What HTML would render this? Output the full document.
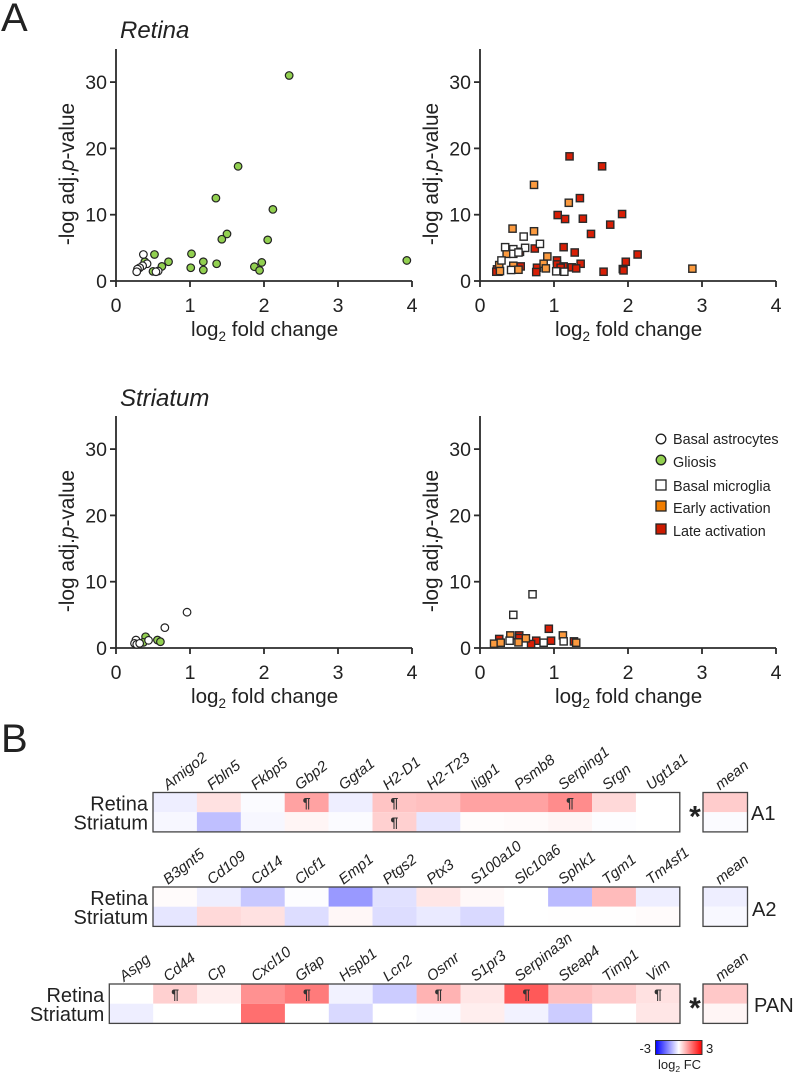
<!DOCTYPE html>
<html lang="en">
<head>
<meta charset="utf-8">
<title>Retina and striatum volcano plots with heatmaps</title>
<style>
html,body{margin:0;padding:0;background:#fff;}
svg{display:block;font-family:"Liberation Sans",Arial,sans-serif;}
text{fill:#222;}
</style>
</head>
<body>
<svg id="fig" xmlns="http://www.w3.org/2000/svg" width="793" height="1074" viewBox="0 0 793 1074">
  <defs>
    <linearGradient id="fcGradient" x1="0" x2="1" y1="0" y2="0">
      <stop offset="0" stop-color="#0000ff"/>
      <stop offset="0.5" stop-color="#ffffff"/>
      <stop offset="1" stop-color="#ff0000"/>
    </linearGradient>
  </defs>
  <text x="1" y="31" font-size="40">A</text>
  <text x="1" y="752" font-size="40">B</text>
  <text x="120" y="38" font-size="24" font-style="italic">Retina</text>
  <text x="120" y="406" font-size="24" font-style="italic">Striatum</text>

  <g id="plots"></g>
  <g id="heatmaps"></g>

  <g>
    <circle cx="661" cy="439" r="4.8" fill="#fff" stroke="#222" stroke-width="1.3"/>
    <text x="673" y="444" font-size="14.4">Basal astrocytes</text>
    <circle cx="661" cy="460" r="4.8" fill="#92d050" stroke="#222" stroke-width="1.3"/>
    <text x="673" y="467" font-size="14.4">Gliosis</text>
    <rect x="656" y="480" width="10" height="10" fill="#fff" stroke="#222" stroke-width="1.3"/>
    <text x="673" y="491" font-size="14.4">Basal microglia</text>
    <rect x="656" y="501" width="10" height="10" fill="#f07d00" stroke="#222" stroke-width="1.3"/>
    <text x="673" y="513" font-size="14.4">Early activation</text>
    <rect x="656" y="524" width="10" height="10" fill="#cc1a00" stroke="#222" stroke-width="1.3"/>
    <text x="673" y="536" font-size="14.4">Late activation</text>
  </g>

  <g>
    <rect x="655.5" y="1040.5" width="46.5" height="14" fill="url(#fcGradient)" stroke="#333" stroke-width="1"/>
    <text x="651" y="1053" font-size="13" text-anchor="end">-3</text>
    <text x="706" y="1053" font-size="13">3</text>
    <text x="658" y="1069" font-size="13">log<tspan font-size="8.5" dy="3">2</tspan><tspan dy="-3"> FC</tspan></text>
  </g>
</svg>
<script>
var xTicks = [0, 1, 2, 3, 4];
var yTicks = [0, 10, 20, 30];

var retinaAstroX = [0.37, 0.42, 0.36, 0.32, 0.29, 0.28, 0.57, 0.54];
var retinaAstroY = [4.0, 2.6, 2.3, 2.0, 1.8, 1.4, 1.5, 1.4];
var retinaGliosisX = [2.34, 1.65, 1.35, 2.12, 1.5, 1.43, 2.05, 0.52, 1.02, 0.71, 1.18, 1.36, 1.97, 3.93, 0.62, 1.01, 1.18, 1.87, 1.94, 0.5, 0.39];
var retinaGliosisY = [31, 17.3, 12.5, 10.8, 7.1, 6.3, 6.2, 4.0, 4.1, 2.9, 2.9, 2.6, 2.8, 3.1, 2.2, 2.0, 1.66, 2.16, 1.6, 1.45, 2.9];

var retinaLateX = [1.21, 1.65, 1.35, 1.05, 1.15, 1.39, 1.92, 1.76, 1.5, 1.13, 0.74, 1.28, 2.13, 1.97, 1.36, 1.04, 1.04, 1.13, 1.09, 1.24, 1.3, 1.67, 1.93, 1.94, 0.77, 0.76, 0.55, 0.54, 0.23, 0.25, 0.22];
var retinaLateY = [18.8, 17.3, 12.5, 9.95, 9.35, 9.4, 10.1, 8.5, 7.1, 5.1, 4.9, 4.3, 4.0, 2.9, 2.6, 3.1, 2.5, 2.2, 2.0, 2.06, 1.9, 1.4, 1.8, 1.6, 2.0, 1.35, 2.2, 4.4, 1.76, 1.4, 1.4];
var retinaEarlyX = [0.73, 1.2, 0.44, 0.73, 0.36, 0.91, 0.86, 0.89, 0.45, 0.52, 0.26, 0.27, 2.87];
var retinaEarlyY = [14.5, 11.8, 7.9, 7.5, 4.1, 3.7, 2.6, 1.9, 2.3, 1.7, 2.4, 1.5, 1.86];
var retinaBasalX = [0.59, 0.81, 0.34, 0.61, 0.45, 0.45, 0.52, 0.29, 0.42, 1.03, 1.14];
var retinaBasalY = [6.7, 5.6, 5.1, 5.0, 4.8, 4.1, 4.3, 3.1, 1.66, 1.46, 1.4];

var striatumAstroX = [0.96, 0.66, 0.44, 0.27, 0.25, 0.28, 0.32];
var striatumAstroY = [5.4, 3.07, 1.16, 1.2, 0.7, 0.55, 0.7];
var striatumGliosisX = [0.4, 0.56, 0.6, 0.37];
var striatumGliosisY = [1.7, 1.2, 0.95, 0.85];

var striatumLateX = [0.93, 0.26, 0.53, 0.76, 0.96, 0.69, 1.27, 0.53];
var striatumLateY = [2.9, 1.36, 1.9, 1.1, 1.1, 0.6, 1.0, 1.5];
var striatumEarlyX = [0.19, 0.28, 0.41, 0.52, 0.62, 1.12, 1.3];
var striatumEarlyY = [0.65, 0.8, 1.9, 0.85, 1.46, 1.9, 0.8];
var striatumBasalX = [0.71, 0.45, 0.4, 0.86, 1.13];
var striatumBasalY = [8.1, 5.0, 1.1, 0.8, 1.0];

var a1Genes = ["Amigo2", "Fbln5", "Fkbp5", "Gbp2", "Ggta1", "H2-D1", "H2-T23", "Iigp1", "Psmb8", "Serping1", "Srgn", "Ugt1a1"];
var a1Retina = [-0.2, 0.35, -0.05, 1.1, -0.2, 0.7, 0.75, 1.1, 1.1, 1.35, 0.45, 0];
var a1Striatum = [-0.1, -0.75, -0.1, 0.12, -0.05, 0.55, -0.3, 0.04, 0.06, 0.12, -0.02, 0];
var a1Mean = [0.6, -0.05];
var a1MarkRetina = ["Gbp2", "H2-D1", "Serping1"];
var a1MarkStriatum = ["H2-D1"];

var a2Genes = ["B3gnt5", "Cd109", "Cd14", "Clcf1", "Emp1", "Ptgs2", "Ptx3", "S100a10", "Slc10a6", "Sphk1", "Tgm1", "Tm4sf1"];
var a2Retina = [0.05, -0.2, -0.65, -0.02, -1.2, -0.35, 0.3, 0.08, 0, -0.8, 0.8, -0.2];
var a2Striatum = [-0.3, 0.45, 0.35, -0.4, 0.1, -0.4, -0.25, -0.45, 0, 0.01, 0.01, 0.05];
var a2Mean = [-0.2, -0.08];
var a2MarkRetina = [];
var a2MarkStriatum = [];

var panGenes = ["Aspg", "Cd44", "Cp", "Cxcl10", "Gfap", "Hspb1", "Lcn2", "Osmr", "S1pr3", "Serpina3n", "Steap4", "Timp1", "Vim"];
var panRetina = [0, 0.55, 0.2, 1.3, 1.55, -0.15, -0.6, 0.9, 0.3, 1.95, 0.75, 0.6, 0.35];
var panStriatum = [-0.2, 0, 0, 1.7, 0, -0.45, 0, -0.05, 0.2, -0.15, -0.6, 0, 0.3];
var panMean = [0.65, 0.12];
var panMarkRetina = ["Cd44", "Gfap", "Osmr", "Serpina3n", "Vim"];
var panMarkStriatum = [];

var NS = "http://www.w3.org/2000/svg";
var plots = document.getElementById("plots");
var heatmaps = document.getElementById("heatmaps");

function make(tag, parent, attrs) {
  var el = document.createElementNS(NS, tag);
  for (var k in attrs) el.setAttribute(k, attrs[k]);
  parent.appendChild(el);
  return el;
}

function drawAxes(parent, left, bottom, sx, sy, name) {
  var g = make("g", parent, {});
  
  
  var common = { stroke: "#2b2b2b", "stroke-width": 1.8, fill: "none" };
  var xLine = make("path", g, Object.assign({ d: "M" + left + " " + bottom + "H" + sx(4) }, common));
  
  
  var yLine = make("path", g, Object.assign({ d: "M" + left + " " + (bottom + 0.9) + "V" + sy(35) }, common));
  
  
  xTicks.forEach(function (t) {
    var tick = make("path", g, Object.assign({ d: "M" + sx(t) + " " + bottom + "v6" }, common));
    
    
    var lab = make("text", g, { x: sx(t), y: bottom + 31, "font-size": 19.5, "text-anchor": "middle" });
    
    
    lab.textContent = t;
  });
  yTicks.forEach(function (t) {
    var tick = make("path", g, Object.assign({ d: "M" + left + " " + sy(t) + "h-6" }, common));
    
    
    var lab = make("text", g, { x: left - 9, y: sy(t) + 7, "font-size": 19.5, "text-anchor": "end" });
    
    
    lab.textContent = t;
  });
  var xt = make("text", g, { x: left + 75, y: bottom + 55, "font-size": 20.6 });
  
  
  xt.innerHTML = 'log<tspan font-size="13.5" dy="5">2</tspan><tspan dy="-5"> fold change</tspan>';
  var yx = left - 42, yy = bottom - 107;
  var yt = make("text", g, { x: yx, y: yy, "font-size": 20.8, "text-anchor": "middle", transform: "rotate(-90 " + yx + " " + yy + ")" });
  
  
  yt.innerHTML = '-log adj.<tspan font-style="italic">p</tspan>-value';
}

function drawCircles(parent, xs, ys, sx, sy, fill, name) {
  xs.forEach(function (v, i) {
    var c = make("circle", parent, { cx: sx(v), cy: sy(ys[i]), r: 3.8, fill: fill, stroke: "#222", "stroke-width": 1.2 });
    
    
  });
}

function drawSquares(parent, xs, ys, sx, sy, fill, name) {
  xs.forEach(function (v, i) {
    var r = make("rect", parent, { x: sx(v) - 3.6, y: sy(ys[i]) - 3.6, width: 7.2, height: 7.2, fill: fill, stroke: "#2a2a2a", "stroke-width": 1.4 });
    
    
  });
}

function scales(left, bottom) {
  return {
    sx: function (v) { return left + v * 74; },
    sy: function (v) { return bottom - v * 6.63; }
  };
}

var s1 = scales(116, 281);
drawAxes(plots, 116, 281, s1.sx, s1.sy, 'retina-astrocyte-plot');
drawCircles(plots, retinaGliosisX, retinaGliosisY, s1.sx, s1.sy, "#92d050", 'retina-gliosis-point');
drawCircles(plots, retinaAstroX, retinaAstroY, s1.sx, s1.sy, "#fff", 'retina-basal-astrocyte-point');

var s2 = scales(480, 281);
drawAxes(plots, 480, 281, s2.sx, s2.sy, 'retina-microglia-plot');
drawSquares(plots, retinaLateX, retinaLateY, s2.sx, s2.sy, "#d81e05", 'retina-late-activation-point');
drawSquares(plots, retinaEarlyX, retinaEarlyY, s2.sx, s2.sy, "#fb9a3e", 'retina-early-activation-point');
drawSquares(plots, retinaBasalX, retinaBasalY, s2.sx, s2.sy, "#fff", 'retina-basal-microglia-point');

var s3 = scales(116, 648);
drawAxes(plots, 116, 648, s3.sx, s3.sy, 'striatum-astrocyte-plot');
drawCircles(plots, striatumGliosisX, striatumGliosisY, s3.sx, s3.sy, "#92d050", 'striatum-gliosis-point');
drawCircles(plots, striatumAstroX, striatumAstroY, s3.sx, s3.sy, "#fff", 'striatum-basal-astrocyte-point');

var s4 = scales(480, 648);
drawAxes(plots, 480, 648, s4.sx, s4.sy, 'striatum-microglia-plot');
drawSquares(plots, striatumLateX, striatumLateY, s4.sx, s4.sy, "#d81e05", 'striatum-late-activation-point');
drawSquares(plots, striatumEarlyX, striatumEarlyY, s4.sx, s4.sy, "#fb9a3e", 'striatum-early-activation-point');
drawSquares(plots, striatumBasalX, striatumBasalY, s4.sx, s4.sy, "#fff", 'striatum-basal-microglia-point');

function fcColor(v) {
  var t = Math.min(1, Math.abs(v) / 3);
  var c = Math.round(255 * (1 - t));
  return v >= 0 ? "rgb(255," + c + "," + c + ")" : "rgb(" + c + "," + c + ",255)";
}

var CELL = 43.9;

function drawRow(parent, left, top, height, values, genes, marks, rowName) {
  values.forEach(function (v, i) {
    var r = make("rect", parent, { x: left + i * CELL, y: top, width: CELL + 0.3, height: height, fill: fcColor(v) });
    
    
    if (marks.indexOf(genes[i]) >= 0) {
      var m = make("text", parent, { x: left + (i + 0.5) * CELL, y: top + height / 2 + 5, "font-size": 14, "font-weight": "bold", "text-anchor": "middle", style: "fill:#333" });
      
      
      m.textContent = "\u00b6";
    }
  });
}

function drawHeatmap(name, left, top, genes, retina, striatum, mean, markR, markS, tag, tagX, tagBase, star) {
  var g = make("g", heatmaps, {});
  
  
  var rowH = 19.7;
  drawRow(g, left, top, rowH, retina, genes, markR, 'retina');
  drawRow(g, left, top + rowH, rowH, striatum, genes, markS, 'striatum');
  var frame = make("rect", g, { x: left, y: top, width: genes.length * CELL, height: rowH * 2, fill: "none", stroke: "#444", "stroke-width": 1.3 });
  
  

  genes.forEach(function (gene, i) {
    var px = left + (i + 0.5) * CELL - 7, py = top - 2;
    var t = make("text", g, { x: px, y: py, "font-size": 15, "font-style": "italic", transform: "rotate(-38 " + px + " " + py + ")" });
    
    
    t.textContent = gene;
  });

  var rl = make("text", g, { x: left - 5, y: top + 18, "font-size": 20, "text-anchor": "end" });
  
  
  rl.textContent = "Retina";
  var sl = make("text", g, { x: left - 5, y: top + 37, "font-size": 20, "text-anchor": "end" });
  
  
  sl.textContent = "Striatum";

  var mx = 703, mw = 44.5;
  mean.forEach(function (v, i) {
    var r = make("rect", g, { x: mx, y: top + i * rowH, width: mw, height: rowH, fill: fcColor(v) });
    
    
  });
  var mf = make("rect", g, { x: mx, y: top, width: mw, height: rowH * 2, fill: "none", stroke: "#444", "stroke-width": 1.3 });
  
  
  var mlx = 720, mly = top - 2;
  var ml = make("text", g, { x: mlx, y: mly, "font-size": 15, "font-style": "italic", transform: "rotate(-38 " + mlx + " " + mly + ")" });
  
  
  ml.textContent = "mean";

  var tg = make("text", g, { x: tagX, y: tagBase, "font-size": 20 });
  
  
  tg.textContent = tag;

  if (star) {
    var st = make("text", g, { x: 695, y: top + 34, "font-size": 30, "font-weight": "bold", "text-anchor": "middle" });
    
    
    st.textContent = "*";
  }
}

drawHeatmap('a1', 153, 792.5, a1Genes, a1Retina, a1Striatum, a1Mean, a1MarkRetina, a1MarkStriatum, "A1", 751, 820, true);
drawHeatmap('a2', 153, 887, a2Genes, a2Retina, a2Striatum, a2Mean, a2MarkRetina, a2MarkStriatum, "A2", 752, 916, false);
drawHeatmap('pan', 109.3, 984, panGenes, panRetina, panStriatum, panMean, panMarkRetina, panMarkStriatum, "PAN", 754, 1012, true);
</script>
</body>
</html>
